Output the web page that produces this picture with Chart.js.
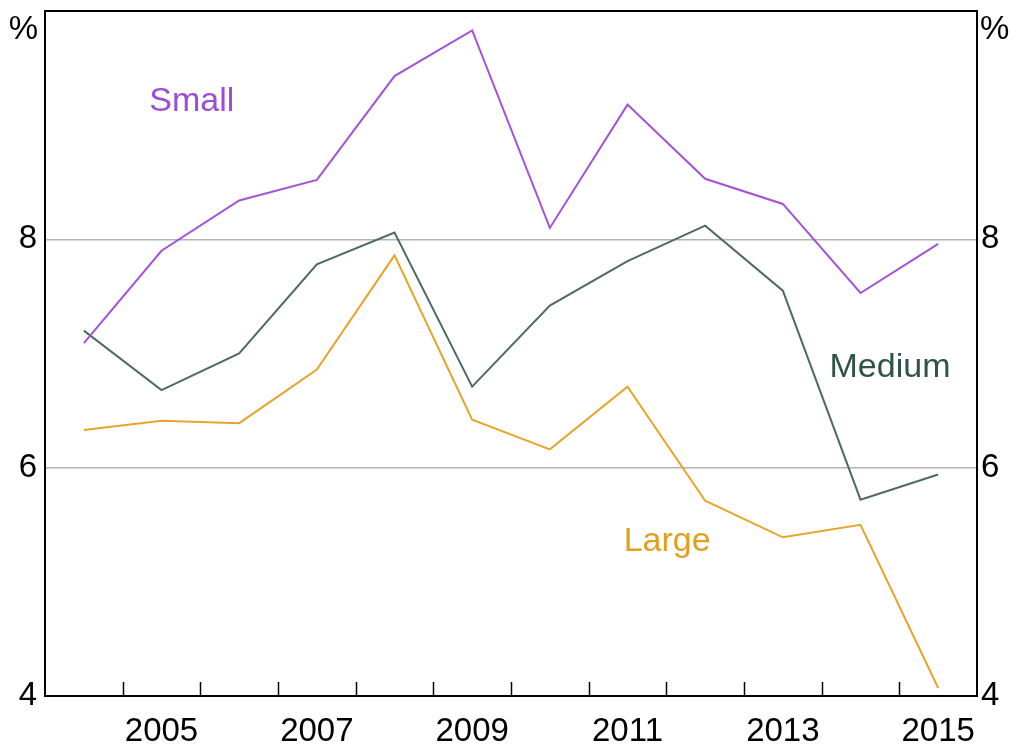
<!DOCTYPE html>
<html>
<head>
<meta charset="utf-8">
<script src="https://cdn.jsdelivr.net/npm/chart.js@4/dist/chart.umd.min.js"></script>
<style>
html,body{margin:0;padding:0;background:#fff;}
#wrap{width:1012px;height:747px;}
</style>
</head>
<body>
<div id="wrap"><canvas id="c" width="1012" height="747"></canvas></div>
<script>
const years = ['2004','2005','2006','2007','2008','2009','2010','2011','2012','2013','2014','2015'];
const small  = [7.09, 7.90, 8.34, 8.52, 9.43, 9.83, 8.10, 9.18, 8.53, 8.31, 7.53, 7.96];
const medium = [7.20, 6.68, 7.00, 7.78, 8.06, 6.71, 7.42, 7.81, 8.12, 7.55, 5.72, 5.94];
const large  = [6.33, 6.41, 6.39, 6.86, 7.86, 6.42, 6.16, 6.71, 5.71, 5.39, 5.50, 4.07];
const yTicks = [4, 6, 8];
const gridValues = [6, 8];

const colSmall = '#a352d9';
const colMedium = '#4c6c5e';
const colLarge = '#e6a52a';
const FONT = "'Liberation Sans', Arial, sans-serif";

const seriesLabels = [
  {text:'Small',  x:1.39,  y:9.21, color:'#9d4cd4'},
  {text:'Medium', x:10.38, y:6.88, color:'#2f5446'},
  {text:'Large',  x:7.51,  y:5.35, color:'#e0a020'}
];

const decor = {
  id:'decor',
  afterDraw(chart){
    const ctx = chart.ctx, a = chart.chartArea;
    const xs = chart.scales.x, ys = chart.scales.y;
    ctx.save();
    ctx.strokeStyle = '#000'; ctx.lineWidth = 1.5;
    const n = years.length;
    for (let i = 1; i < n; i++) {
      const px = Math.round((xs.getPixelForValue(i-1) + xs.getPixelForValue(i)) / 2) + 0.5;
      ctx.beginPath(); ctx.moveTo(px, a.bottom); ctx.lineTo(px, a.bottom - 14); ctx.stroke();
    }
    ctx.lineWidth = 2;
    ctx.strokeRect(a.left, a.top, a.right - a.left, a.bottom - a.top);
    ctx.fillStyle = '#000';
    ctx.font = '33px ' + FONT;
    ctx.textBaseline = 'middle';
    ctx.textAlign = 'right';
    ctx.fillText('%', a.left - 7, a.top + 19);
    ctx.textAlign = 'left';
    ctx.fillText('%', a.right + 3, a.top + 19);
    ctx.font = '34px ' + FONT;
    ctx.textAlign = 'center';
    seriesLabels.forEach(l => {
      ctx.fillStyle = l.color;
      ctx.fillText(l.text, xs.getPixelForValue(l.x), ys.getPixelForValue(l.y));
    });
    ctx.restore();
  }
};

const tickFont = {family: FONT, size: 33};

new Chart(document.getElementById('c'), {
  type: 'line',
  data: {
    labels: years,
    datasets: [
      {label:'Small', data: small, borderColor: colSmall, borderWidth: 2, pointRadius: 0, tension: 0, yAxisID: 'y'},
      {label:'Medium', data: medium, borderColor: colMedium, borderWidth: 2, pointRadius: 0, tension: 0, yAxisID: 'y'},
      {label:'Large', data: large, borderColor: colLarge, borderWidth: 2, pointRadius: 0, tension: 0, yAxisID: 'y'}
    ]
  },
  options: {
    responsive: false,
    animation: false,
    layout: {padding: {top: 11, left: 0, right: 0, bottom: 0}},
    plugins: {legend: {display: false}, tooltip: {enabled: false}, title: {display: false}},
    scales: {
      x: {
        type: 'category',
        offset: true,
        grid: {display: false, drawTicks: false, offset: true},
        border: {display: false},
        ticks: {
          autoSkip: false, maxRotation: 0, padding: 16, color: '#000', font: tickFont,
          callback: function(v, i){ const y = years[i]; return (parseInt(y) % 2 === 1) ? y : ''; }
        },
        afterFit: s => { s.height = 51; s.paddingLeft = 0; s.paddingRight = 0; }
      },
      y: {
        position: 'left', min: 4, max: 10,
        afterBuildTicks: s => { s.ticks = [4,6,8,10].map(v => ({value: v})); },
        grid: {
          drawTicks: false,
          color: c => gridValues.includes(c.tick.value) ? '#b4b4b4' : 'rgba(0,0,0,0)',
          lineWidth: 1.5
        },
        border: {display: false},
        ticks: {
          padding: 8, color: '#000', font: tickFont,
          callback: v => yTicks.includes(v) ? String(v) : ''
        },
        afterFit: s => { s.width = 45; s.paddingTop = 0; s.paddingBottom = 0; }
      },
      y2: {
        position: 'right', min: 4, max: 10,
        afterBuildTicks: s => { s.ticks = [4,6,8,10].map(v => ({value: v})); },
        grid: {display: false, drawTicks: false},
        border: {display: false},
        ticks: {
          padding: 4, color: '#000', font: tickFont,
          callback: v => yTicks.includes(v) ? String(v) : ''
        },
        afterFit: s => { s.width = 35; s.paddingTop = 0; s.paddingBottom = 0; }
      }
    }
  },
  plugins: [decor]
});
</script>
</body>
</html>
